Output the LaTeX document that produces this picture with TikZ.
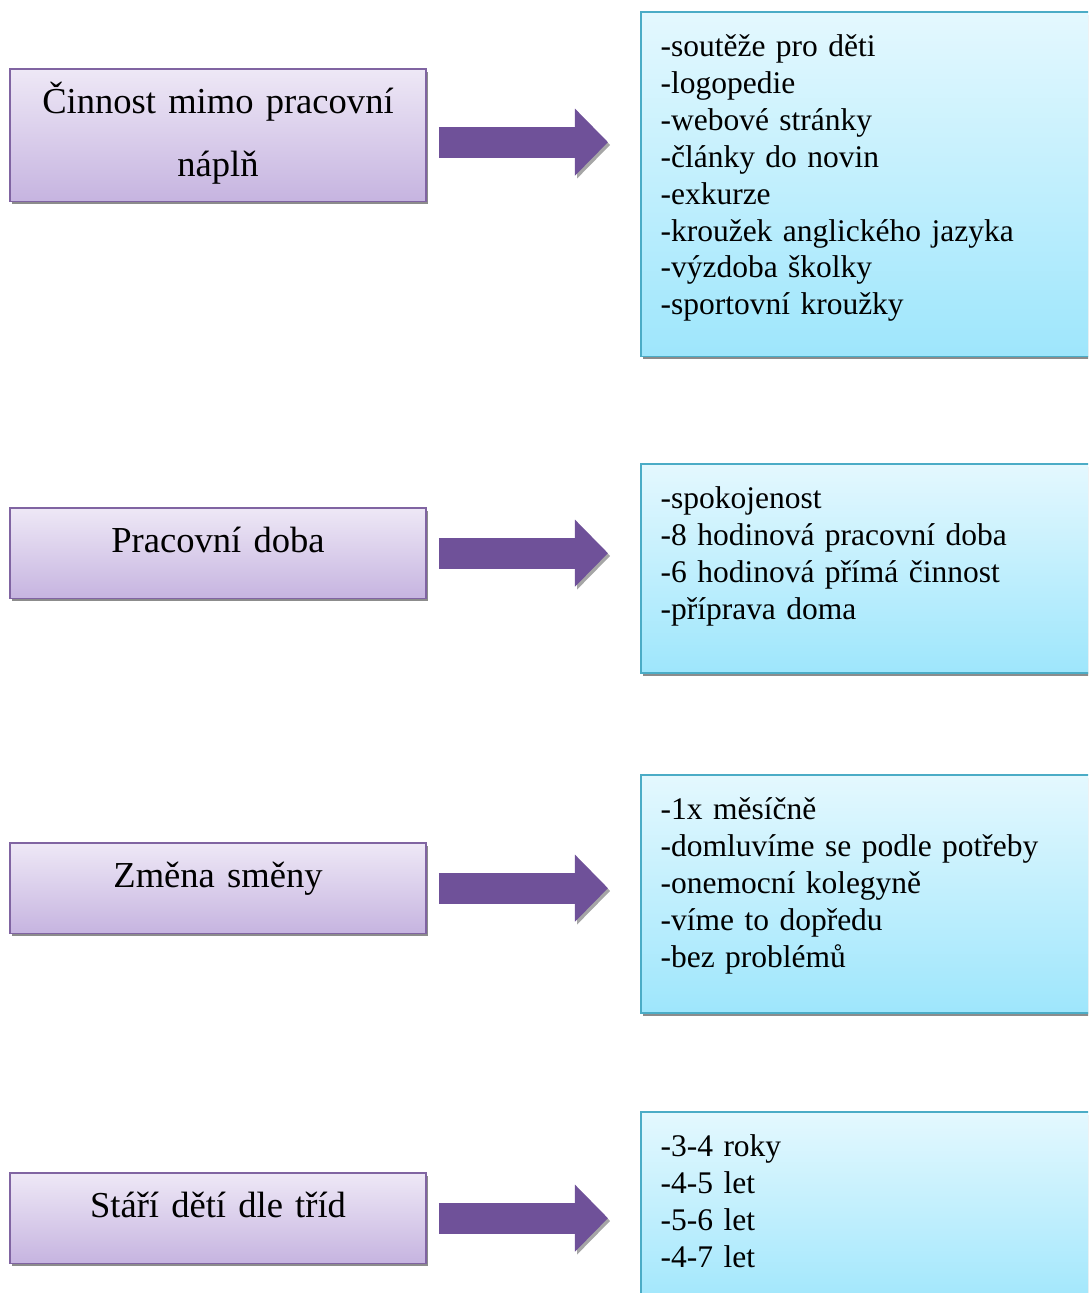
\documentclass[tikz,border=0pt]{standalone}
\usepackage{fontspec}
\setmainfont{Liberation Serif}
\usepackage{tikz}
\usetikzlibrary{arrows.meta, positioning, shadows}

\definecolor{lilacline}{HTML}{8064A2}
\definecolor{lilactop}{HTML}{EEE8F6}
\definecolor{lilacbot}{HTML}{C6B4E0}
\definecolor{cyanline}{HTML}{4BACC6}
\definecolor{cyantop}{HTML}{E4F8FE}
\definecolor{cyanbot}{HTML}{9EE6FC}
\definecolor{arrowfill}{HTML}{6F5199}

\begin{document}
\begin{tikzpicture}[
        x=0.025cm, y=-0.025cm,
        topicbox/.style={
            draw=lilacline,
            top color=lilactop, bottom color=lilacbot,
            line width=1.2pt,
            anchor=north,
            align=center,
            font=\fontsize{26}{45}\selectfont,
            text width=10.4cm,
            inner xsep=0pt, inner ysep=0pt,
            text height=31.5pt,
            text depth=#1,
            drop shadow={shadow xshift=1.5pt, shadow yshift=-2pt, fill=black!45, opacity=1}
        },
        listbox/.style={
            draw=cyanline,
            top color=cyantop, bottom color=cyanbot,
            line width=1.2pt,
            anchor=north west,
            align=left,
            font=\fontsize{22.4}{26.2}\selectfont,
            text width=10.8cm,
            inner xsep=14pt, inner ysep=0pt,
            text height=32pt,
            text depth=#1,
            drop shadow={shadow xshift=1.5pt, shadow yshift=-2pt, fill=black!45, opacity=1}
        },
        fatarrow/.style={
            draw=arrowfill,
            line width=0.775cm,
            line cap=butt,
            shorten <=0.3cm, shorten >=0.8cm,
            -{Triangle[length=0.825cm, width=1.625cm]},
            preaction={draw=black!35, transform canvas={shift={(1.5pt,-2pt)}}}
        }
    ]

        \clip (0,0) rectangle (1088,1293);

        % left column
        \node[topicbox=62.8pt] (t1) at (218,68)   {Činnost mimo pracovní\\náplň};
        \node[topicbox=33pt] (t2) at (218,507)  {Pracovní doba};
        \node[topicbox=33pt] (t3) at (218,842)  {Změna směny};
        \node[topicbox=33pt] (t4) at (218,1172) {Stáří dětí dle tříd};

        % right column
        \node[listbox=213pt] (l1) at (640,11) {-soutěže pro děti\\-logopedie\\-webové stránky\\-články do novin\\-exkurze\\-kroužek anglického jazyka\\-výzdoba školky\\-sportovní kroužky};
        \node[listbox=116.8pt] (l2) at (640,463) {-spokojenost\\-8 hodinová pracovní doba\\-6 hodinová přímá činnost\\-příprava doma};
        \node[listbox=137.4pt] (l3) at (640,774) {-1x měsíčně\\-domluvíme se podle potřeby\\-onemocní kolegyně\\-víme to dopředu\\-bez problémů};
        \node[listbox=110pt] (l4) at (640,1111) {-3-4 roky\\-4-5 let\\-5-6 let\\-4-7 let};

        \draw[fatarrow] ([yshift=-5pt]t1.east) -- ([yshift=-5pt]t1.east -| l1.west);
        \draw[fatarrow] (t2.east) -- (t2.east -| l2.west);
        \draw[fatarrow] (t3.east) -- (t3.east -| l3.west);
        \draw[fatarrow] (t4.east) -- (t4.east -| l4.west);

    \end{tikzpicture}
\end{document}
